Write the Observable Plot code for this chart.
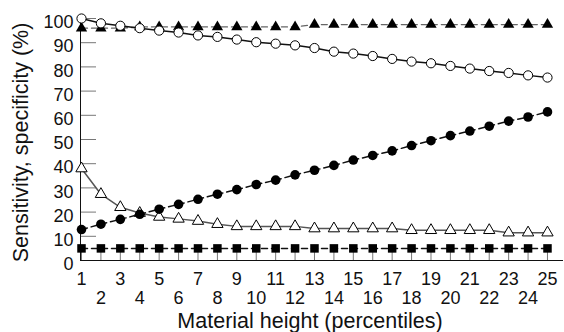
<!DOCTYPE html>
<html><head><meta charset="utf-8">
<script src="https://cdn.jsdelivr.net/npm/d3@7"></script>
<script src="https://cdn.jsdelivr.net/npm/@observablehq/plot@0.6"></script>
<style>body{margin:0;background:#fff}#chart svg{display:block}</style>
</head><body><div id="chart"></div>
<script>
const percentile = [1,2,3,4,5,6,7,8,9,10,11,12,13,14,15,16,17,18,19,20,21,22,23,24,25];
const openCircleValues = [100,98,97,96,95,94.2,93,92.4,91.3,90.2,89.6,88.9,87.8,86.3,85.5,84.5,83.3,82.2,81.5,80.4,79.3,78.3,77.5,76.5,75.6];
const filledTriangleValues = [96,96,96,96.5,96.5,96.5,96.5,96.5,96.5,96.5,96.5,96.5,97.5,97.5,97.5,97.5,97.5,97.5,97.5,97.5,97.5,97.5,97.5,97.5,97.5];
const filledCircleValues = [12.8,15,17,19.1,21.2,23.2,25.3,27.4,29.3,31.4,33.2,35.4,37.3,39.3,41.5,43.4,45.3,47.5,49.5,51.6,53.5,55.5,57.6,59.3,61.4];
const openTriangleValues = [38,27.4,22,19.6,18,17.2,16.3,15,14.1,14.1,14.1,14.1,13.2,13.2,13.2,13.2,13.2,12.5,12.5,12.5,12.5,12.5,11.5,11.5,11.5];
const filledSquareValues = [5,5,5,5,5,5,5,5,5,5,5,5,5,5,5,5,5,5,5,5,5,5,5,5,5];
const yTickLabels = [0,10,20,30,40,50,60,70,80,90,100];
const xLabelsRow1 = [1,3,5,7,9,11,13,15,17,19,21,23,25];
const xLabelsRow2 = [2,4,6,8,10,12,14,16,18,20,22,24];
const xTitle = "Material height (percentiles)";
const yTitle = "Sensitivity, specificity (%)";

const rows = vals => percentile.map((p, i) => ({p, v: vals[i]}));
const oc = rows(openCircleValues), ft = rows(filledTriangleValues), fc = rows(filledCircleValues),
      ot = rows(openTriangleValues), fs = rows(filledSquareValues);
const xMin = 0.9485, xMax = 25.825;

const chart = Plot.plot({
  width: 564, height: 332,
  marginLeft: 80, marginRight: 1, marginTop: 18, marginBottom: 72,
  style: {fontFamily: "'Liberation Sans', Arial, sans-serif", fontSize: "18px", color: "#111", background: "#fff", overflow: "visible"},
  x: {domain: [xMin, xMax]},
  y: {domain: [0, 100]},
  marks: [
    Plot.axisY({ticks: yTickLabels, tickSize: -16, tickFormat: () => "", stroke: "#777", label: null}),
    Plot.axisY({ticks: yTickLabels, tickSize: 0, tickPadding: 7, dy: 4, fontSize: 18, label: null}),
    Plot.axisX({ticks: percentile, tickSize: -10, tickFormat: () => "", stroke: "#777", label: null}),
    Plot.axisX({ticks: xLabelsRow1, tickSize: 0, tickPadding: 12, fontSize: 18, label: null}),
    Plot.axisX({ticks: xLabelsRow2, tickSize: 0, tickPadding: 31, fontSize: 18, label: null}),
    Plot.ruleY([0], {stroke: "#111"}),
    Plot.ruleX([xMin], {stroke: "#111"}),
    Plot.lineY(fs, {x: "p", y: "v", stroke: "#111", strokeDasharray: "6,4"}),
    Plot.dot(fs, {x: "p", y: "v", symbol: "square", r: 4.8, fill: "#000", stroke: "none"}),
    Plot.lineY(ot, {x: "p", y: "v", stroke: "#555"}),
    Plot.dot(ot, {x: "p", y: "v", symbol: "triangle", r: 4.2, fill: "#fff", stroke: "#000", strokeWidth: 1}),
    Plot.lineY(fc, {x: "p", y: "v", stroke: "#111", strokeDasharray: "6,4"}),
    Plot.dot(fc, {x: "p", y: "v", symbol: "circle", r: 4.8, fill: "#000", stroke: "none"}),
    Plot.lineY(ft, {x: "p", y: "v", stroke: "#666", strokeDasharray: "6,4", strokeWidth: 1.3}),
    Plot.dot(ft, {x: "p", y: "v", symbol: "triangle", r: 4.2, fill: "#000", stroke: "none"}),
    Plot.lineY(oc, {x: "p", y: "v", stroke: "#111"}),
    Plot.dot(oc, {x: "p", y: "v", symbol: "circle", r: 4.6, fill: "#fff", stroke: "#000", strokeWidth: 1}),
    Plot.text([xTitle], {frameAnchor: "bottom", textAnchor: "middle", lineAnchor: "middle", dy: 60.4, dx: -12, fontSize: 21.5, fill: "#111"}),
    Plot.text([yTitle], {frameAnchor: "left", textAnchor: "middle", lineAnchor: "middle", rotate: -90, dx: -59, dy: 3, fontSize: 21.5, fill: "#111"})
  ]
});
document.getElementById("chart").appendChild(chart);
</script>
</body></html>
